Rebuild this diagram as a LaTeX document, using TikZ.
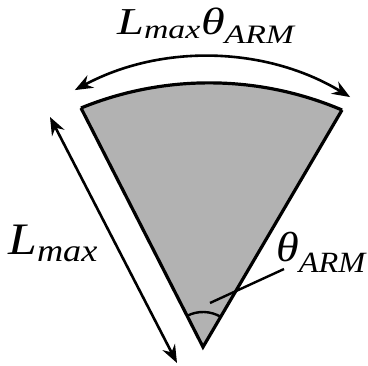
\documentclass[tikz,border=0pt]{standalone}
\usepackage{fontspec}
\setmainfont{Liberation Serif}
\usepackage{tikz}
\usetikzlibrary{arrows.meta,positioning,calc}

\begin{document}
\begin{tikzpicture}[x=1pt, y=1pt, >={Stealth[length=18pt,width=14pt,inset=6pt]},
  edge/.style={line width=3.2pt, line join=miter},
  dim/.style={line width=2.6pt, <->},
  lbl/.style={inner sep=0pt, anchor=base west}]
\useasboundingbox (0,0) rectangle (368,366);

  % Define coordinates for nodes
\coordinate (O) at (203,19); \coordinate (P) at (81,258); \coordinate (Q) at (342,256); \coordinate (T) at (74.8,275.9); \coordinate (U) at (50,249); \coordinate (V) at (177,3); \coordinate (W) at (210,63);
\node[lbl, font=\fontsize{38}{40}\selectfont\itshape, xscale=1.27] (top) at (117,331) {L\textsubscript{max}θ\textsubscript{ARM}}; \node[lbl, font=\fontsize{45}{48}\selectfont\itshape, xscale=1.15] (len) at (8,111) {L\textsubscript{max}}; \node[lbl, font=\fontsize{42}{44}\selectfont\itshape, xscale=1.1] (ang) at (276,104) {θ\textsubscript{ARM}};

  % Draw the sector
\fill[black!30] (O) -- (P) arc[start angle=112.2, end angle=66.9, radius=339] -- cycle; \draw[edge] (P) arc[start angle=112.2, end angle=66.9, radius=339]; \draw[edge] (P) -- (O) -- (Q); \draw[line width=2.4pt] (O) ++(59.6:35) arc[start angle=59.6, end angle=117, radius=35];

  % Draw arrows between nodes
\draw[dim] (T) arc[start angle=118.3, end angle=58.8, radius=277.5]; \draw[dim] (U) -- (V); \draw[line width=2.4pt] (W) -- ([xshift=8pt, yshift=4pt]ang.south west);

\end{tikzpicture}
\end{document}
